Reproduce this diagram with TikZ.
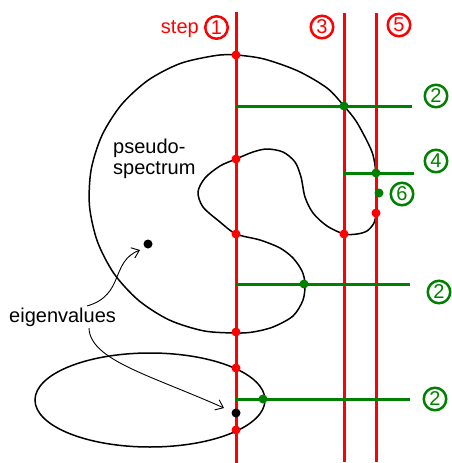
\documentclass[tikz,border=0pt]{standalone}
\usepackage{fontspec}
\setmainfont{Liberation Sans}
\usetikzlibrary{arrows.meta}
\definecolor{stepred}{RGB}{255,0,0}
\definecolor{stepgreen}{RGB}{0,128,0}
\tikzset{
  redline/.style={stepred, line width=3pt},
  greenline/.style={stepgreen, line width=3pt},
  boundary/.style={black, line width=1.5pt},
  reddot/.style={circle, fill=stepred, inner sep=0pt, minimum size=9pt},
  greendot/.style={circle, fill=stepgreen, inner sep=0pt, minimum size=9pt},
  eigdot/.style={circle, fill=black, inner sep=0pt, minimum size=9pt},
  stepnum/.style={circle, draw, line width=2.5pt, minimum size=22.5pt, inner sep=0pt,
                  font=\fontsize{20}{20}\selectfont},
  rednum/.style={stepnum, stepred},
  greennum/.style={stepnum, stepgreen},
  label/.style={font=\fontsize{20}{21}\selectfont, inner sep=0pt, anchor=base west},
  pointer/.style={line width=0.9pt, -{Straight Barb[length=7pt,width=11pt]}},
}
\begin{document}
\begin{tikzpicture}[x=1pt,y=-1pt]
\useasboundingbox (0,0) rectangle (452,463);

% pseudospectrum boundary: round outer part with an inward notch
\draw[boundary] plot[smooth cycle, tension=0.5] coordinates {
  (236,55) (264,59) (298,71) (327,88) (344,106) (356,121) (367,141) (373,155)
  (376,173) (377,193) (376,213) (374,223) (367,231) (357,234) (344,234)
  (327,226) (313,213) (305,197) (301,177) (295,162) (283,152) (267,149)
  (253,152) (236,159) (220,166) (205,178) (198,192) (203,207) (220,222)
  (236,234) (260,240) (280,248) (293,258) (302,271) (305,284) (303,300)
  (293,316) (273,327) (253,332) (236,333)
  (203.9,330.9) (169.3,320.0) (138.7,300.5) (114.1,273.7) (97.4,241.5)
  (89.5,206.1) (91.1,169.9) (102.0,135.3) (121.5,104.6) (148.3,80.1)
  (180.5,63.4) (215.9,55.5)};

% second component
\draw[boundary] (150,400) ellipse [x radius=115, y radius=47];

% vertical search lines
\coordinate (a1) at (236,12);  \coordinate (b1) at (236,463);
\coordinate (a3) at (344,13);  \coordinate (b3) at (344,462);
\coordinate (a5) at (376,13);  \coordinate (b5) at (376,462);
\draw[redline] (a1) -- (b1);
\draw[redline] (a3) -- (b3);
\draw[redline] (a5) -- (b5);

% horizontal search lines
\coordinate (h1a) at (236,106); \coordinate (h1b) at (412,106);
\coordinate (h2a) at (344,173); \coordinate (h2b) at (414,173);
\coordinate (h3a) at (236,284); \coordinate (h3b) at (410,284);
\coordinate (h4a) at (236,399); \coordinate (h4b) at (410,399);
\draw[greenline] (h1a) -- (h1b);
\draw[greenline] (h2a) -- (h2b);
\draw[greenline] (h3a) -- (h3b);
\draw[greenline] (h4a) -- (h4b);

% boundary crossings
\node[reddot] (r1) at (236,55) {};
\node[reddot] (r2) at (236,159) {};
\node[reddot] (r3) at (236,234) {};
\node[reddot] (r4) at (236,332) {};
\node[reddot] (r5) at (236,368) {};
\node[reddot] (r6) at (236,430) {};
\node[reddot] (r7) at (344,234) {};
\node[reddot] (r8) at (376,213) {};
\node[greendot] (g1) at (344,106) {};
\node[greendot] (g2) at (376,173) {};
\node[greendot] (g3) at (379,193) {};
\node[greendot] (g4) at (304,284) {};
\node[greendot] (g5) at (263,399) {};

% eigenvalues
\node[eigdot] (e1) at (148,244) {};
\node[eigdot] (e2) at (236,413) {};

% step numbers
\node[label, stepred, anchor=base east] (steplbl) at (199,33) {step};
\node[rednum] (n1) at (216.5,27.5) {1};
\node[rednum] (n3) at (322,27) {3};
\node[rednum] (n5) at (399,25) {5};
\node[greennum] (n2a) at (436,96) {2};
\node[greennum] (n4) at (436,161) {4};
\node[greennum] (n6) at (402,194) {6};
\node[greennum] (n2b) at (439,292) {2};
\node[greennum] (n2c) at (435,399) {2};

% text labels
\node[label] (ps1) at (113,153) {pseudo-};
\node[label] (ps2) at (113,174) {spectrum};
\node[label] (eig) at (9,322) {eigenvalues};

% pointers from the label to the eigenvalues
\coordinate (p1) at (87,306);
\coordinate (p2) at (89,328);
\coordinate (t1) at (140,250);
\coordinate (t2) at (224,408);
\draw[pointer] (p1) .. controls (125,295) and (110,262) .. (t1);
\draw[pointer] (p2) .. controls (90,360) and (150,375) .. (t2);
\end{tikzpicture}
\end{document}
